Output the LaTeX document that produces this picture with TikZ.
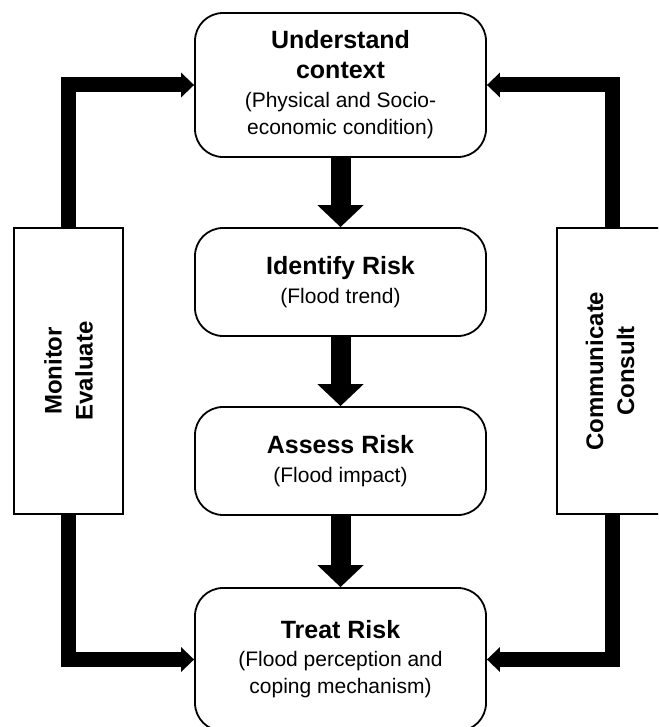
\documentclass[tikz,border=0pt]{standalone}
\usepackage{fontspec}
\setmainfont{Liberation Sans}
\usetikzlibrary{arrows.meta}
\newcommand\ttl[1]{{\fontsize{25}{30}\selectfont\bfseries #1}}
\begin{document}
\begin{tikzpicture}[x=1pt,y=-1pt,
  box/.style={draw, line width=1.8pt, rounded corners=28pt, minimum width=291pt,
    align=center, inner sep=0pt, font=\fontsize{21}{27}\selectfont},
  sidebox/.style={draw, line width=1.8pt, minimum width=109pt, minimum height=286pt, inner sep=0pt},
  sidetext/.style={rotate=90, align=center, inner sep=0pt, font=\fontsize{24}{31}\selectfont\bfseries},
  flow/.style={line width=20pt, -{Triangle[width=45pt,length=22pt]}},
  loopline/.style={line width=15pt, line join=miter, -{Triangle[width=24pt,length=13pt]}},
]
\useasboundingbox (0,0) rectangle (658,727);
\clip (0,0) rectangle (658,727);

\node[box, minimum height=144pt] (ctx) at (340.5,85)
  {\ttl{Understand}\\[3pt] \ttl{context}\\[2pt] (Physical and Socio-\\ economic condition)};
\node[box, minimum height=108pt] (idf) at (340.5,282)
  {\ttl{Identify Risk}\\[2pt] (Flood trend)};
\node[box, minimum height=108pt] (ass) at (340.5,461)
  {\ttl{Assess Risk}\\[2pt] (Flood impact)};
\node[box, minimum height=143pt] (trt) at (340.5,659.5)
  {\ttl{Treat Risk}\\[1pt] (Flood perception and\\ coping mechanism)};

\node[sidebox] (mon) at (68.5,371) {};
\node[sidetext] (monl) at (mon.center) {Monitor\\ Evaluate};
\node[sidebox, minimum width=110pt] (com) at (612,371) {};
\node[sidetext] (coml) at ([xshift=-2pt]com.center) {Communicate\\ Consult};

\draw[flow] (ctx.south) -- (idf.north);
\draw[flow] (idf.south) -- (ass.north);
\draw[flow] (ass.south) -- (trt.north);

\draw[loopline] (mon.north) |- (ctx.west);
\draw[loopline] (mon.south) |- (trt.west);
\draw[loopline] (com.north) |- (ctx.east);
\draw[loopline] (com.south) |- (trt.east);
\end{tikzpicture}
\end{document}
